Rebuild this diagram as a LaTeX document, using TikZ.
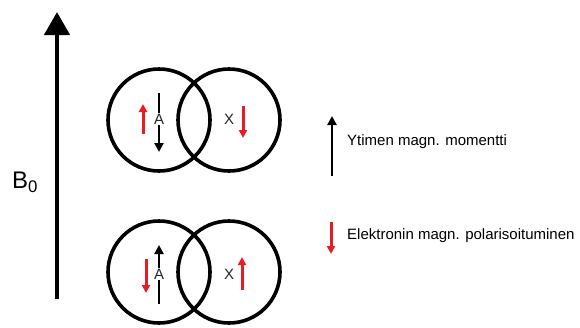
\documentclass[tikz,border=0pt]{standalone}
\usepackage{fontspec}
\setmainfont{Liberation Sans}
\usetikzlibrary{arrows.meta}
\definecolor{myred}{RGB}{232,28,36}
\tikzset{
  ring/.style={draw=black,line width=3.6pt,circle,minimum size=102pt,inner sep=0pt},
  nucl/.style={draw=black,line width=2.3pt,-{Triangle[width=9pt,length=9pt]}},
  elec/.style={draw=myred,line width=3pt,-{Triangle[width=8pt,length=8pt]}},
  lbl/.style={font=\fontsize{15}{17}\selectfont,inner sep=0pt,text=black!85},
  legend/.style={font=\fontsize{15}{18}\selectfont,inner sep=0pt,anchor=west}
}
\begin{document}
\begin{tikzpicture}[x=1pt,y=-1pt]
\useasboundingbox (0,0) rectangle (580,327);
% big B0 arrow
\coordinate (b0s) at (57,299);
\coordinate (b0e) at (57,12);
\draw[line width=4.4pt,-{Triangle[width=25pt,length=23pt]}] (b0s) -- (b0e);
\node[font=\fontsize{24}{28}\selectfont,inner sep=0pt] (b0) at (25,182) {B\textsubscript{0}};
% top pair
\node[ring] (c1) at (159,120) {};
\node[ring] (c2) at (229,120) {};
\coordinate (n1s) at (159,93);  \coordinate (n1e) at (159,152);
\coordinate (e1s) at (143,134); \coordinate (e1e) at (143,104);
\coordinate (e2s) at (243,106); \coordinate (e2e) at (243,138);
\draw[nucl] (n1s) -- (n1e);
\draw[elec] (e1s) -- (e1e);
\draw[elec] (e2s) -- (e2e);
\node[lbl,fill=white,inner sep=0.5pt] (a1) at (159,119) {A};
\node[lbl] (x1) at (229,119) {X};
% bottom pair
\node[ring] (c3) at (159,272) {};
\node[ring] (c4) at (229,272) {};
\coordinate (n2s) at (159,304); \coordinate (n2e) at (159,245);
\coordinate (e3s) at (146,259); \coordinate (e3e) at (146,293);
\coordinate (e4s) at (242,290); \coordinate (e4e) at (242,257);
\draw[nucl] (n2s) -- (n2e);
\draw[elec] (e3s) -- (e3e);
\draw[elec] (e4s) -- (e4e);
\node[lbl,fill=white,inner sep=0.5pt] (a2) at (159,274) {A};
\node[lbl] (x2) at (229,274) {X};
% legend
\coordinate (l1s) at (332,176); \coordinate (l1e) at (332,116);
\draw[nucl] (l1s) -- (l1e);
\node[legend] (t1) at (347,142) {Ytimen magn. momentti};
\coordinate (l2s) at (331,222); \coordinate (l2e) at (331,254);
\draw[elec] (l2s) -- (l2e);
\node[legend] (t2) at (347,236) {Elektronin magn. polarisoituminen};
\end{tikzpicture}
\end{document}
